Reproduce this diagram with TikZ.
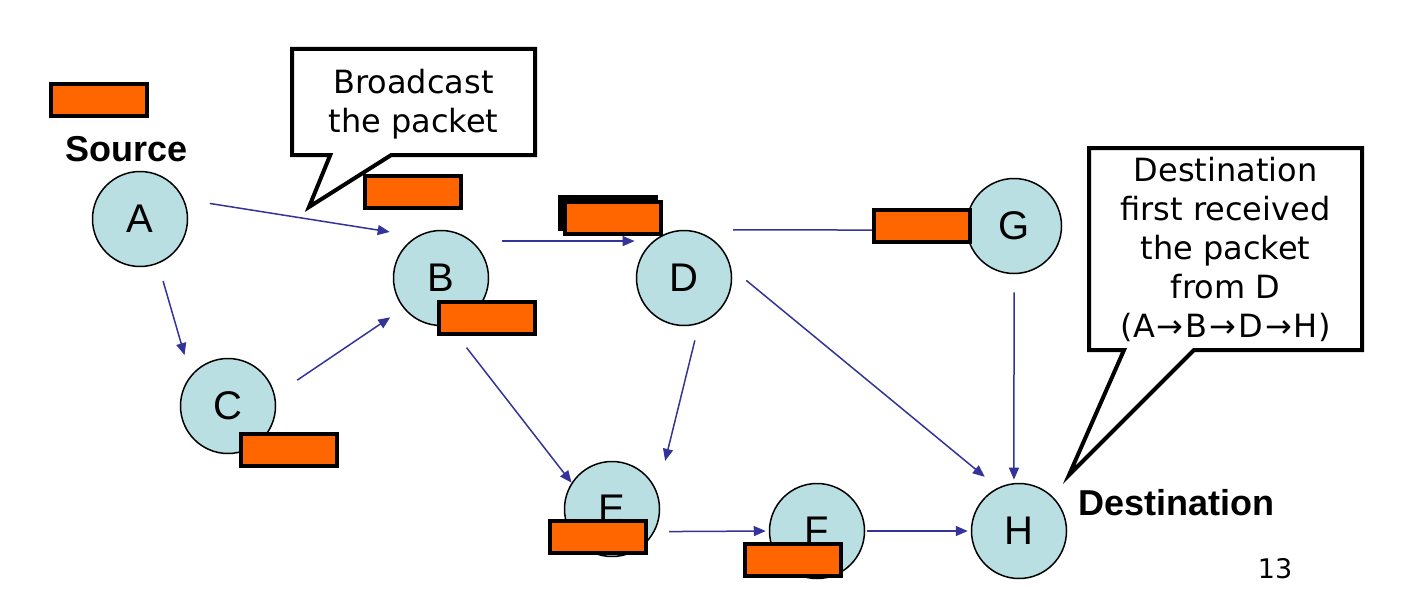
\documentclass[tikz,border=0pt]{standalone}
\usepackage{fontspec}
\setmainfont{Liberation Sans}
\newfontfamily\bubblefont{DejaVu Sans}
\usepackage{xcolor}
\usetikzlibrary{positioning}
\usetikzlibrary{shapes,arrows.meta}

\definecolor{nodeblue}{RGB}{185,223,227}
\definecolor{pktorange}{RGB}{255,102,0}
\definecolor{linkblue}{RGB}{51,51,153}

\tikzset{
  station/.style={circle,draw,line width=0.75pt,fill=nodeblue,minimum size=47.5pt,inner sep=0pt,font=\fontsize{20}{24}\selectfont},
  packet/.style={rectangle,draw,line width=2pt,fill=pktorange,minimum width=48pt,minimum height=16pt,inner sep=0pt},
  link/.style={draw=linkblue,line width=0.75pt,-{Triangle[length=6pt,width=5pt]}},
  bubble/.style={rectangle callout,draw,line width=2pt,fill=white,align=center,inner sep=2pt,font=\bubblefont\fontsize{16}{19.5}\selectfont},
  tag/.style={inner sep=0pt,font=\bfseries\fontsize{18}{21}\selectfont}
}

\begin{document}
\begin{tikzpicture}[x=0.5pt,y=-0.5pt]
  \useasboundingbox (0,0) rectangle (1416,610);
  \node[station](A) at (140,219) {A};
  \node[station](B) at (441,278) {B};
  \node[station](C) at (228,406) {C};
  \node[station](D) at (684,278) {D};
  \node[station](G) at (1014,226) {G};
  \node[station](E) at (612,509) {E};
  \node[station](F) at (817,531) {F};
  \node[station](H) at (1019,531) {H};
  \draw[link,shorten <=13pt,shorten >=13.75pt] (A.24) -- (B.120);
  \draw[link,shorten <=9pt,shorten >=10.7pt] (A.-68) -- (C.141);
  \draw[link,shorten <=13.4pt,shorten >=8pt] (C.13) -- (B.-141);
  \draw[link,shorten <=15.2pt,shorten >=9.2pt] (B.50) -- (D.130);
  \draw[link,shorten <=24.5pt,shorten >=2pt] (D.north) -- (G.185);
  \draw[link,shorten <=14pt] (B.-80) -- (E.147);
  \draw[link,shorten <=8.5pt,shorten >=16.3pt] (D.-72) -- (E.20);
  \draw[link,shorten <=9.75pt,shorten >=8.5pt] (D.12) -- (H.116);
  \draw[link,shorten <=9pt,shorten >=1.7pt] (G.south) -- (H.96);
  \draw[link,shorten <=7.2pt,shorten >=1.5pt] (E.-28) -- (F.west);
  \draw[link,shorten <=1pt,shorten >=1.5pt] (F.east) -- (H.west);
  \node[packet](pS) at (99,100) {};
  \node[packet](pBtop) at (413,192) {};
  \node[packet](pB) at (487,318) {};
  \node[packet,fill=black](pDback) at (608,213) {};
  \node[packet](pD) at (613,218) {};
  \node[packet](pG) at (922,226) {};
  \node[packet](pC) at (289,450) {};
  \node[packet](pE) at (598,537) {};
  \node[packet](pF) at (793,560) {};
  \coordinate (tipBc) at (309,207);
  \coordinate (tipDest) at (1069,475);
  \node[bubble,minimum width=121.5pt,minimum height=53pt,callout pointer width=30.5pt,callout absolute pointer={(tipBc)}](bcast) at (413.5,102) {\rule{0pt}{14pt}Broadcast\\the packet};
  \node[bubble,minimum width=136.5pt,minimum height=101pt,callout pointer width=35pt,callout absolute pointer={(tipDest)}](dest) at (1225.5,249) {Destination\\first received\\the packet\\from D\\(A\kern1pt→\kern1ptB\kern1pt→\kern1ptD\kern1pt→\kern1ptH)};
  \node[tag,anchor=base west](src) at (65,161) {Source};
  \node[tag,anchor=base west](dst) at (1078,515) {Destination};
  \node[anchor=base,inner sep=0pt,font=\bubblefont\fontsize{13.5}{16}\selectfont](page) at (1275,578) {13};
\end{tikzpicture}
\end{document}
